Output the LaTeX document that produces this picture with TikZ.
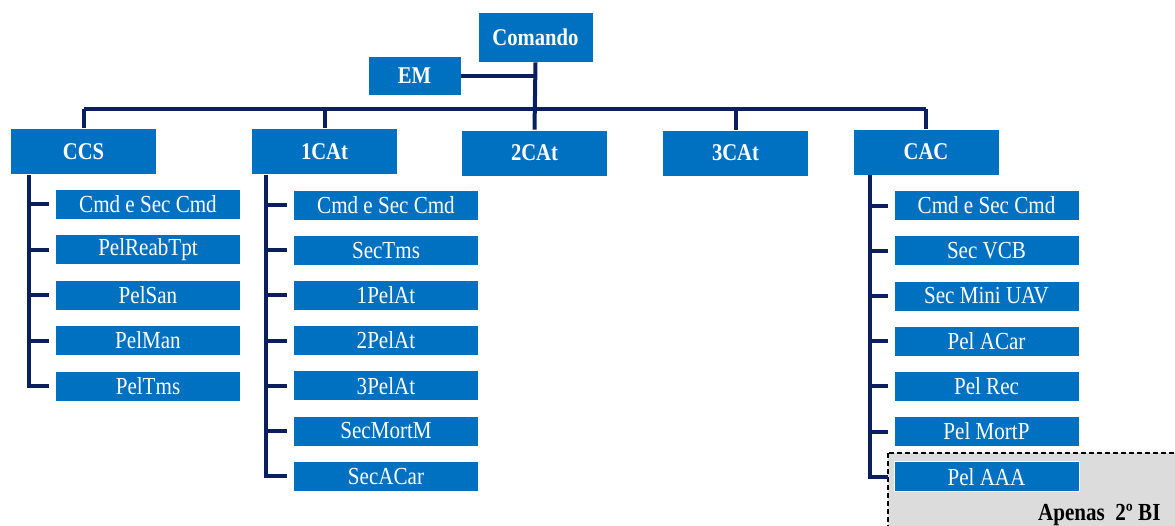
\documentclass[tikz,border=0pt]{standalone}
\usepackage{fontspec}
\setmainfont{Liberation Serif}
\newfontfamily\narrowserif[FakeStretch=0.86]{Liberation Serif}
\definecolor{boxblue}{HTML}{0070C0}
\definecolor{navy}{HTML}{0B1F5E}
\definecolor{lightgray}{HTML}{DCDCDC}
\begin{document}
\begin{tikzpicture}[x=1pt,y=-1pt,
  topbox/.style={fill=boxblue,draw=white,line width=0.8pt,text=white,inner sep=0pt,
    minimum width=146pt,minimum height=46pt,font=\narrowserif\fontsize{24}{26}\selectfont\bfseries},
  subbox/.style={fill=boxblue,draw=white,line width=0.8pt,text=white,inner sep=0pt,
    minimum width=185pt,minimum height=30pt,font=\narrowserif\fontsize{24.5}{26}\selectfont},
  conn/.style={draw=navy,line width=4pt},
]
\useasboundingbox (0,0) rectangle (1175,525);
% dashed region
\draw[fill=lightgray,line width=1.4pt,dash pattern=on 5pt off 3pt] (888,453) rectangle (1185,535);
\node[anchor=base east,font=\narrowserif\fontsize{24.5}{26}\selectfont\bfseries] (ap) at (1164,520) {Apenas~ 2º BI};

% top
\node[topbox,minimum width=115pt,minimum height=50pt] (cmd) at (535.5,37) {Comando};
\node[topbox,minimum width=93pt,minimum height=39pt] (em) at (414.5,75.5) {EM};

\node[topbox] (ccs) at (83.5,151.5) {CCS};
\node[topbox] (c1) at (324.5,151.5) {1CAt};
\node[topbox] (c2) at (534.5,153) {2CAt};
\node[topbox] (c3) at (735.5,153) {3CAt};
\node[topbox] (cac) at (926,152) {CAC};

% CCS subs
\foreach \t [count=\i] in {Cmd e Sec Cmd,PelReabTpt,PelSan,PelMan,PelTms}{
  \node[subbox] (s\i) at (148,{204+45.5*(\i-1)}) {\t};
}
% 1CAt subs
\foreach \t [count=\i] in {Cmd e Sec Cmd,SecTms,1PelAt,2PelAt,3PelAt,SecMortM,SecACar}{
  \node[subbox] (a\i) at (386,{205+45.2*(\i-1)}) {\t};
}
% CAC subs
\foreach \t [count=\i] in {Cmd e Sec Cmd,Sec VCB,Sec Mini UAV,Pel ACar,Pel Rec,Pel MortP,Pel AAA}{
  \node[subbox] (b\i) at (986.5,{205.5+45.2*(\i-1)}) {\t};
}

% hierarchy connectors
\coordinate (bus) at (0,109);
\draw[conn] (cmd.south) -- (c2.north);
\draw[conn] (em.east) -- (em.east -| cmd.south);
\draw[conn] (ccs.north |- bus) -- (cac.north |- bus);
\foreach \n in {ccs,c1,c3,cac}{
  \draw[conn] (\n.north |- bus) -- (\n.north);
}

% branches
\draw[conn] ([xshift=19pt]ccs.south west) |- ([xshift=-6pt]s5.west);
\foreach \i in {1,...,4}{\draw[conn] ([xshift=19pt]ccs.south west |- s\i.west) -- ([xshift=-6pt]s\i.west);}
\draw[conn] ([xshift=15pt]c1.south west) |- ([xshift=-6pt]a7.west);
\foreach \i in {1,...,6}{\draw[conn] ([xshift=15pt]c1.south west |- a\i.west) -- ([xshift=-6pt]a\i.west);}
\draw[conn] ([xshift=17pt]cac.south west) |- ([xshift=-6pt]b7.west);
\foreach \i in {1,...,6}{\draw[conn] ([xshift=17pt]cac.south west |- b\i.west) -- ([xshift=-6pt]b\i.west);}
\end{tikzpicture}
\end{document}
